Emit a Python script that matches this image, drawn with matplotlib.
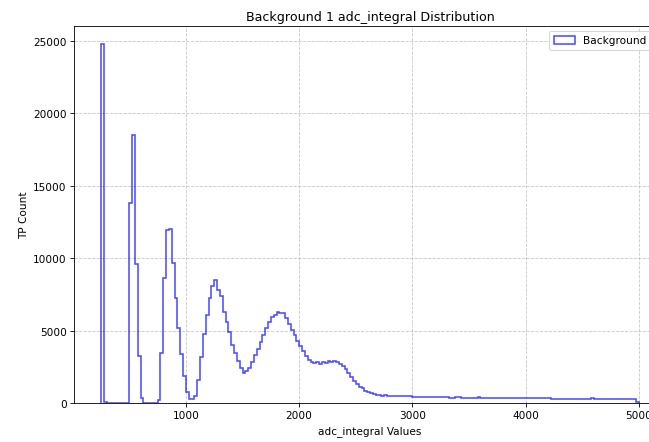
import numpy as np
import matplotlib
matplotlib.use("Agg")
import matplotlib.pyplot as plt

bin_start = 250
bin_width = 25

counts = [
    24800, 80,
    20, 20, 20, 20, 20, 20, 20, 20,
    13800, 18500, 9600, 3250, 320,
    20, 20, 20, 20, 20,
    200, 3450, 8600, 11950, 12000, 9700, 7250, 5150, 3350, 1880, 780,
    260, 300, 460, 1590, 3150, 4800, 6080, 7230, 8060, 8490,
    7800, 7400, 6300, 5620, 4930, 4000, 3430, 2880, 2440, 2070,
    2230, 2440, 2810, 3340, 3700, 4200, 4720, 5160, 5570, 5920,
    6100, 6310, 6220, 6220, 5870, 5460, 5040, 4700, 4300, 3960,
    3570, 3220, 2970, 2850, 2760, 2810, 2670, 2850, 2760, 2880,
    2850, 2900, 2810, 2700, 2580, 2350, 2070, 1820, 1540, 1310,
    1130, 1010, 850, 740, 670, 620, 570, 550, 510,
    520, 500,
    480, 470, 470, 460, 460, 455, 450, 450,
    440, 440, 435, 430, 430, 425, 420, 420, 415, 410,
    390, 380, 400, 370, 360, 380, 395, 370, 365, 360,
    360, 355, 355, 380, 360, 350, 350, 345, 345, 360,
    340, 340, 340, 335, 335, 335, 330, 330, 330, 355,
    325, 320, 320, 320, 320, 315, 315, 315, 320, 300,
    305, 310, 300, 310, 310, 305, 300, 310, 305, 300,
    300, 295, 310, 320, 295, 290, 290, 290, 285, 285,
    285, 280, 280, 280, 280, 275, 275, 270, 270,
    80,
]

edges = bin_start + bin_width * np.arange(len(counts) + 1)
centers = (edges[:-1] + edges[1:]) / 2

DPI = 76
W, H = 649, 443
fig = plt.figure(figsize=(W / DPI, H / DPI), dpi=DPI)
ax = fig.add_axes([74 / W, 39 / H, 592 / W, 377 / H])

ax.hist(centers, bins=edges, weights=counts, histtype='step',
        color='blue', alpha=0.7, linewidth=1.5, label='Background 1')

ax.set_title('Background 1 adc_integral Distribution', fontsize=12)
ax.set_xlabel('adc_integral Values')
ax.set_ylabel('TP Count')
ax.grid(True, linestyle='--', alpha=0.7)
ax.legend(loc='upper right')

fig.savefig('out.png', dpi=DPI)
